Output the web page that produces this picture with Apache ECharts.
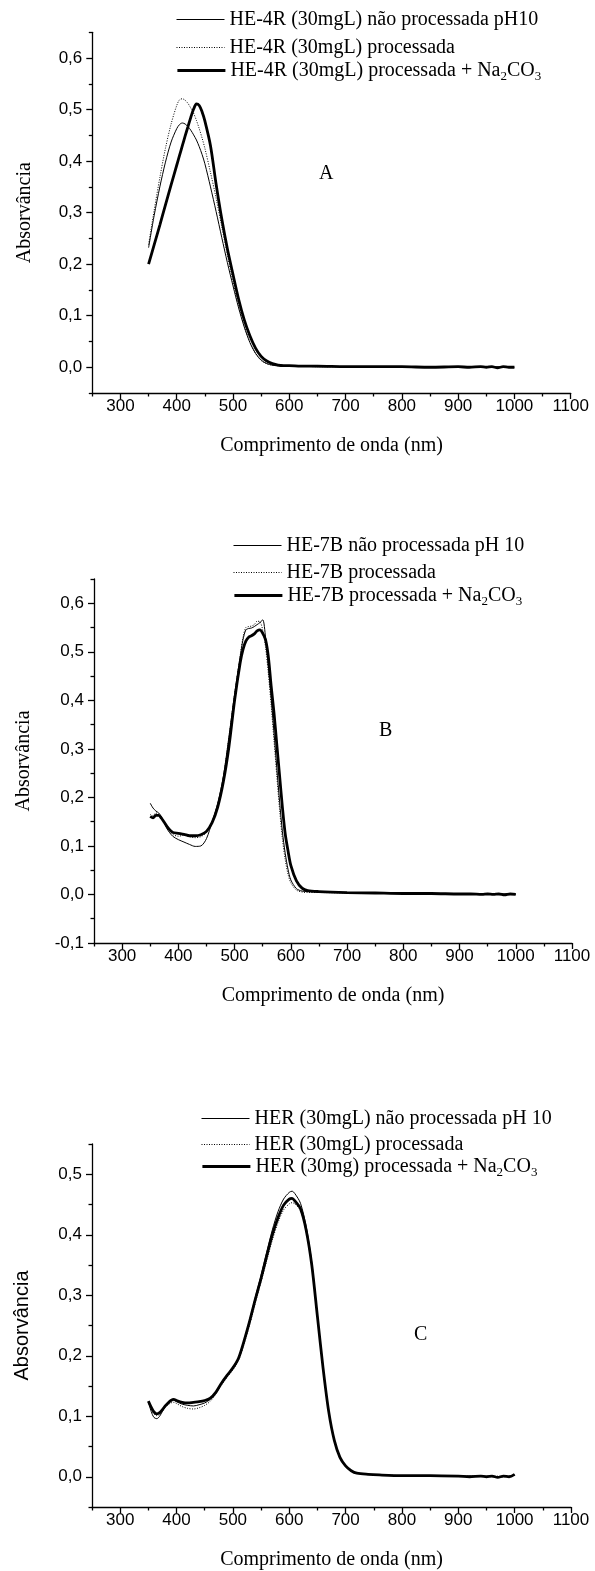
<!DOCTYPE html>
<html>
<head>
<meta charset="utf-8">
<script src="https://cdn.jsdelivr.net/npm/echarts@6/dist/echarts.min.js"></script>
<style>
html,body{margin:0;padding:0;background:#fff;}
#chart{width:595px;height:1571px;}
</style>
</head>
<body>
<div id="chart"></div>
<script>
// ---------- Tick labels ----------
const xMajorTicks = [300, 400, 500, 600, 700, 800, 900, 1000, 1100];
const xMinorTicks = [250, 350, 450, 550, 650, 750, 850, 950, 1050];
const yMajorA = [0, 0.1, 0.2, 0.3, 0.4, 0.5, 0.6];
const yMinorA = [-0.05, 0.05, 0.15, 0.25, 0.35, 0.45, 0.55, 0.65];
const yMajorB = [-0.1, 0, 0.1, 0.2, 0.3, 0.4, 0.5, 0.6];
const yMinorB = [-0.05, 0.05, 0.15, 0.25, 0.35, 0.45, 0.55, 0.65];
const yMajorC = [0, 0.1, 0.2, 0.3, 0.4, 0.5];
const yMinorC = [-0.05, 0.05, 0.15, 0.25, 0.35, 0.45, 0.55];

// ---------- Panel A ----------
const namesA = [
  'HE-4R (30mgL) não processada pH10',
  'HE-4R (30mgL) processada',
  'HE-4R (30mgL) processada + Na2CO3'
];
const wavelengthA = [350,360,370,380,390,400,405,410,415,420,425,430,435,440,445,450,460,470,480,490,500,510,520,530,540,550,560,570,580,590,600,620,650,700,750,800,850,900,920,940,950,960,970,980,990,1000];
const aUnprocessed = [0.232,0.295,0.350,0.398,0.437,0.463,0.471,0.474,0.472,0.467,0.460,0.451,0.441,0.428,0.413,0.395,0.350,0.302,0.252,0.203,0.158,0.115,0.078,0.048,0.027,0.014,0.007,0.004,0.003,0.002,0.002,0.002,0.001,0.001,0.001,0.000,0.001,0.000,0.001,0.000,0.001,0.000,0.001,0.000,0.001,0.000];
const aProcessed = [0.238,0.305,0.368,0.425,0.472,0.508,0.519,0.521,0.518,0.512,0.503,0.493,0.479,0.463,0.445,0.425,0.378,0.328,0.273,0.218,0.166,0.120,0.080,0.049,0.027,0.013,0.007,0.004,0.003,0.003,0.002,0.002,0.001,0.001,0.001,0.000,0.001,0.000,0.001,0.000,0.000,0.001,0.000,0.001,0.000,0.001];
const aCarbonate = [0.200,0.238,0.276,0.315,0.354,0.392,0.411,0.430,0.449,0.467,0.485,0.501,0.511,0.508,0.496,0.478,0.430,0.355,0.288,0.230,0.180,0.132,0.092,0.061,0.037,0.021,0.012,0.007,0.004,0.003,0.003,0.002,0.002,0.001,0.001,0.001,0.000,0.001,0.000,0.001,0.000,0.001,-0.001,0.001,0.000,0.000];

// ---------- Panel B ----------
const namesB = [
  'HE-7B não processada pH 10',
  'HE-7B processada',
  'HE-7B processada + Na2CO3'
];
const wavelengthB = [350,355,360,365,370,380,390,400,410,420,430,440,450,460,470,480,490,500,510,515,520,525,530,535,540,545,550,555,560,565,570,575,580,585,590,595,600,610,620,630,650,700,750,800,850,900,920,940,950,960,970,980,990,1000];
const bUnprocessed = [0.188,0.178,0.172,0.168,0.160,0.135,0.120,0.113,0.108,0.103,0.099,0.100,0.115,0.150,0.188,0.243,0.325,0.412,0.490,0.525,0.545,0.548,0.549,0.552,0.556,0.560,0.566,0.530,0.470,0.405,0.335,0.262,0.192,0.130,0.085,0.052,0.030,0.012,0.007,0.006,0.005,0.004,0.003,0.002,0.002,0.001,0.001,0.001,0.000,0.002,0.000,0.001,0.002,0.000];
const bProcessed = [0.165,0.162,0.168,0.165,0.158,0.138,0.124,0.120,0.122,0.119,0.117,0.119,0.128,0.150,0.186,0.242,0.325,0.412,0.492,0.530,0.550,0.552,0.553,0.556,0.563,0.562,0.545,0.510,0.455,0.390,0.318,0.245,0.175,0.115,0.072,0.042,0.024,0.009,0.005,0.004,0.004,0.003,0.002,0.002,0.001,0.001,0.001,0.000,0.002,0.000,0.001,0.001,0.000,0.001];
const bCarbonate = [0.161,0.158,0.163,0.163,0.157,0.140,0.128,0.126,0.124,0.121,0.121,0.123,0.130,0.148,0.180,0.232,0.305,0.400,0.478,0.505,0.522,0.530,0.533,0.537,0.543,0.545,0.538,0.525,0.490,0.430,0.375,0.310,0.245,0.180,0.125,0.090,0.060,0.028,0.013,0.008,0.006,0.004,0.003,0.002,0.002,0.001,0.001,0.000,0.001,0.000,0.001,-0.001,0.001,0.000];

// ---------- Panel C ----------
const namesC = [
  'HER (30mgL) não processada pH 10',
  'HER (30mgL) processada',
  'HER (30mg) processada + Na2CO3'
];
const wavelengthC = [350,355,360,365,370,375,380,385,390,395,400,410,420,430,440,450,460,470,480,490,500,510,520,530,540,550,560,570,580,590,600,605,610,620,630,640,650,660,670,680,690,700,710,720,740,760,800,850,900,920,940,950,960,970,980,990,1000];
const cUnprocessed = [0.124,0.108,0.098,0.096,0.100,0.108,0.116,0.122,0.126,0.127,0.124,0.120,0.118,0.117,0.119,0.122,0.128,0.139,0.154,0.168,0.181,0.197,0.226,0.260,0.297,0.333,0.371,0.408,0.438,0.459,0.470,0.472,0.468,0.452,0.414,0.354,0.267,0.180,0.107,0.059,0.031,0.017,0.009,0.006,0.004,0.003,0.002,0.002,0.001,0.001,0.001,0.000,0.001,0.000,0.001,0.000,0.003];
const cProcessed = [0.122,0.112,0.104,0.101,0.103,0.109,0.115,0.119,0.122,0.123,0.121,0.116,0.113,0.112,0.114,0.118,0.125,0.137,0.152,0.165,0.177,0.192,0.220,0.252,0.288,0.322,0.357,0.391,0.420,0.441,0.451,0.453,0.451,0.440,0.406,0.348,0.264,0.180,0.108,0.060,0.032,0.018,0.010,0.006,0.004,0.003,0.002,0.002,0.001,0.001,0.001,0.001,0.000,0.001,0.000,0.001,0.002];
const cCarbonate = [0.125,0.115,0.107,0.104,0.106,0.111,0.117,0.122,0.126,0.128,0.126,0.123,0.122,0.123,0.124,0.126,0.130,0.140,0.155,0.168,0.180,0.196,0.225,0.258,0.294,0.328,0.365,0.400,0.428,0.449,0.459,0.460,0.456,0.443,0.408,0.350,0.265,0.180,0.108,0.060,0.032,0.018,0.010,0.006,0.004,0.003,0.002,0.002,0.001,0.000,0.001,0.000,0.001,-0.001,0.001,0.000,0.004];

// ---------- Build options ----------
const SERIF = 'Liberation Serif';
const SANS = 'Liberation Sans';
const BLACK = '#000';

const panels = [
  {grid:{left:92.3, top:32.3, width:478.4, height:360.7}, yMin:-0.05, yMax:0.65, yMajor:yMajorA, yMinor:yMinorA,
   x:wavelengthA, ys:[aUnprocessed,aProcessed,aCarbonate], names:namesA, yNameFont:SERIF, yNameGap:58,
   legendLeft:176, legendCenters:[19.5,47.5,73], letter:'A', letterPos:[319,164]},
  {grid:{left:94, top:579, width:478, height:364}, yMin:-0.1, yMax:0.65, yMajor:yMajorB, yMinor:yMinorB,
   x:wavelengthB, ys:[bUnprocessed,bProcessed,bCarbonate], names:namesB, yNameFont:SERIF, yNameGap:60,
   legendLeft:233, legendCenters:[545.5,572.5,598], letter:'B', letterPos:[379,721]},
  {grid:{left:92, top:1144, width:479, height:366}, yMin:-0.05, yMax:0.55, yMajor:yMajorC, yMinor:yMinorC,
   x:wavelengthC, ys:[cUnprocessed,cProcessed,cCarbonate], names:namesC, yNameFont:SANS, yNameGap:60,
   legendLeft:201, legendCenters:[1118.5,1144.5,1169], letter:'C', letterPos:[414,1325]}
];

const lineStyles = [
  {color:BLACK, width:1, type:'solid'},
  {color:BLACK, width:1, type:[1, 1.5]},
  {color:BLACK, width:2.8, type:'solid'}
];

const fmtY = v => v.toFixed(1).replace('.', ',');
const fmtX = v => String(Math.round(v));
const legendFormatter = name => name.replace('Na2CO3', 'Na{s|2}CO{s|3}');

const grids = [], xAxes = [], yAxes = [], series = [], legends = [], titles = [];

panels.forEach((p, i) => {
  grids.push(Object.assign({containLabel:false}, p.grid));
  const axisLineStyle = {color:BLACK, width:1.3};
  xAxes.push({
    gridIndex:i, type:'value', min:250, max:1100, position:'bottom',
    axisLine:{show:true, onZero:false, lineStyle:axisLineStyle},
    axisTick:{show:true, customValues:xMajorTicks, length:6, lineStyle:axisLineStyle},
    axisLabel:{show:true, customValues:xMajorTicks, margin:5, fontSize:17, fontFamily:SANS, color:BLACK, formatter:fmtX},
    splitLine:{show:false},
    name:'Comprimento de onda (nm)', nameLocation:'middle', nameGap:43,
    nameTextStyle:{fontFamily:SERIF, fontSize:20, color:BLACK}
  });
  xAxes.push({
    gridIndex:i, type:'value', min:250, max:1100, position:'bottom', offset:0,
    axisLine:{show:false, onZero:false},
    axisTick:{show:true, customValues:xMinorTicks, length:3.5, lineStyle:axisLineStyle},
    axisLabel:{show:false}, splitLine:{show:false}
  });
  yAxes.push({
    gridIndex:i, type:'value', min:p.yMin, max:p.yMax, position:'left',
    axisLine:{show:true, onZero:false, lineStyle:axisLineStyle},
    axisTick:{show:true, customValues:p.yMajor, length:6, lineStyle:axisLineStyle},
    axisLabel:{show:true, customValues:p.yMajor, margin:10, fontSize:17, fontFamily:SANS, color:BLACK, formatter:fmtY},
    splitLine:{show:false},
    name:'Absorvância', nameLocation:'middle', nameGap:p.yNameGap,
    nameTextStyle:{fontFamily:p.yNameFont, fontSize:20, color:BLACK}
  });
  yAxes.push({
    gridIndex:i, type:'value', min:p.yMin, max:p.yMax, position:'left', offset:0,
    axisLine:{show:false, onZero:false},
    axisTick:{show:true, customValues:p.yMinor, length:3.5, lineStyle:axisLineStyle},
    axisLabel:{show:false}, splitLine:{show:false}
  });
  p.ys.forEach((vals, k) => {
    series.push({
      type:'line', name:p.names[k], xAxisIndex:2*i, yAxisIndex:2*i,
      data:p.x.map((w, j) => [w, vals[j]]),
      symbol:'none', showSymbol:false, smooth:0.3, animation:false,
      lineStyle:lineStyles[k], itemStyle:{color:BLACK}, z:k === 2 ? 3 : 2
    });
    const isSub = p.names[k].indexOf('Na2CO3') >= 0;
    legends.push({
      data:[p.names[k]], orient:'vertical', left:p.legendLeft,
      top:p.legendCenters[k] - (isSub ? 12.5 : 10),
      padding:0, itemGap:0, itemWidth:48, itemHeight:10, selectedMode:false,
      itemStyle:{opacity:0, borderWidth:0},
      lineStyle:{color:BLACK, width:lineStyles[k].width, type:lineStyles[k].type, opacity:1},
      formatter:legendFormatter,
      textStyle:{fontFamily:SERIF, fontSize:20, color:BLACK,
        rich:{s:{fontFamily:SERIF, fontSize:13, color:BLACK, padding:[12,0,0,0]}}}
    });
  });
  titles.push({
    text:p.letter, left:p.letterPos[0], top:p.letterPos[1], padding:0,
    textStyle:{fontFamily:SERIF, fontSize:20, fontWeight:'normal', color:BLACK}
  });
});

const chart = echarts.init(document.getElementById('chart'), null, {renderer:'canvas'});
chart.setOption({
  animation:false,
  backgroundColor:'#fff',
  title:titles,
  legend:legends,
  grid:grids,
  xAxis:xAxes,
  yAxis:yAxes,
  series:series
});
</script>
</body>
</html>
